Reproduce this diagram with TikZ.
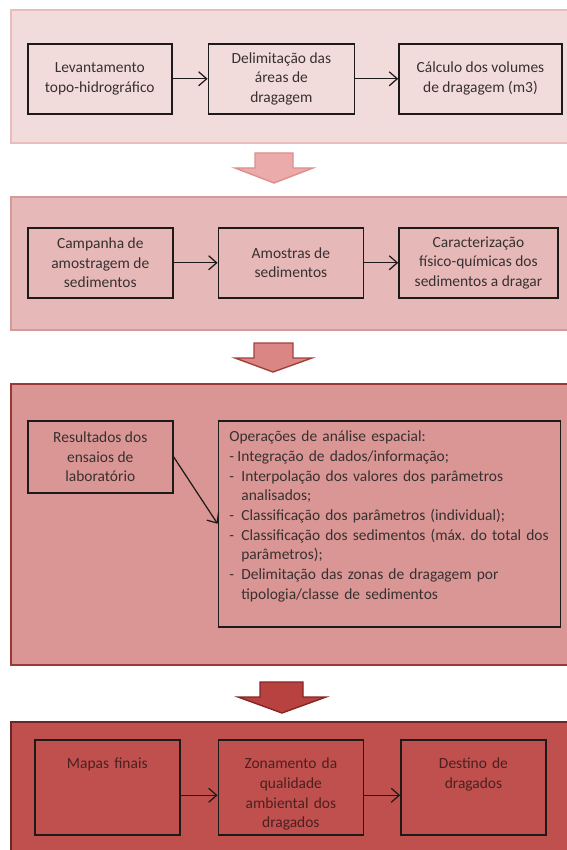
\documentclass[tikz,border=0pt]{standalone}
\usepackage{fontspec}
\setmainfont{Carlito}
\usetikzlibrary{arrows.meta, positioning}

\definecolor{panelA}{HTML}{F2DCDB}
\definecolor{panelAline}{HTML}{E8BDBC}
\definecolor{panelB}{HTML}{E6B9B8}
\definecolor{panelBline}{HTML}{D49A99}
\definecolor{panelC}{HTML}{D99694}
\definecolor{panelCline}{HTML}{9B3836}
\definecolor{panelD}{HTML}{C0504D}
\definecolor{panelDline}{HTML}{6E2624}
\definecolor{arrA}{HTML}{EBABAA}
\definecolor{arrAline}{HTML}{DE8E8D}
\definecolor{arrB}{HTML}{D98684}
\definecolor{arrBline}{HTML}{A3403E}
\definecolor{arrC}{HTML}{B8423F}
\definecolor{arrCline}{HTML}{852624}
\definecolor{txtgray}{HTML}{383030}
\definecolor{txtdark}{HTML}{4A2020}
\definecolor{boxline}{HTML}{1E1A1A}

\begin{document}
\begin{tikzpicture}[
  x=0.2mm, y=-0.2mm,
  >={Straight Barb[length=1.6mm, width=2.8mm]},
  box/.style  = {draw=boxline, line width=0.9pt, inner sep=0pt, align=center,
                 minimum width=29mm, minimum height=14mm, text=txtgray,
                 font=\fontsize{8.8}{11.2}\selectfont},
  topbox/.style = {box, text width=27mm, inner xsep=1mm, inner ysep=0pt,
                   text height=5.8mm, text depth=13.2mm, text=txtdark},
  link/.style = {->, line width=0.7pt, draw=boxline},
]
  \useasboundingbox (0,0) rectangle (566,850);

  % stages
  \filldraw[fill=panelA, draw=panelAline, line width=1.6pt] (11,10)  rectangle (590,143);
  \filldraw[fill=panelB, draw=panelBline, line width=1.4pt] (11,197) rectangle (590,330);
  \filldraw[fill=panelC, draw=panelCline, line width=1.0pt] (11,384) rectangle (590,665);
  \filldraw[fill=panelD, draw=panelDline, line width=1.0pt] (11,722) rectangle (590,870);

  % block arrows between stages
  \filldraw[fill=arrA, draw=arrAline, line width=0.8pt]
    (255,153) -- (293,153) -- (293,168) -- (313,168) -- (274,183) -- (235,168) -- (255,168) -- cycle;
  \filldraw[fill=arrB, draw=arrBline, line width=0.8pt]
    (254,343) -- (293,343) -- (293,358) -- (312,358) -- (273,372) -- (235,358) -- (254,358) -- cycle;
  \filldraw[fill=arrC, draw=arrCline, line width=0.8pt]
    (260,682) -- (303,682) -- (303,697) -- (326,697) -- (282,713) -- (238,697) -- (260,697) -- cycle;

  \node[box, anchor=north west, minimum width=28.8mm] (lev) at (27,43) {Levantamento\\topo-hidrográfico};
  \node[box, right=7mm of lev, minimum width=29.2mm]  (del)  {Delimitação das\\áreas de\\dragagem};
  \node[box, right=8.6mm of del, minimum width=32.6mm] (calc) {Cálculo dos volumes\\de dragagem (m3)};

  \node[box, anchor=north west] (camp) at (27,227) {Campanha de\\amostragem de\\sedimentos};
  \node[box, right=8.8mm of camp]                     (amos)  {Amostras de\\sedimentos};
  \node[box, right=6.8mm of amos, minimum width=31.8mm] (carac) {Caracterização\\físico-químicas dos\\sedimentos a dragar};

  \node[box, anchor=north west, minimum height=14.4mm] (res) at (27,420) {Resultados dos\\ensaios de\\laboratório};
  \node[box, right=8.8mm of res.north east, anchor=north west, align=left,
        text width=64mm, inner xsep=2.2mm, inner ysep=0pt,
        text height=4.2mm, text depth=37mm] (ops)
    {Operações de análise espacial:\\
     \makebox[1.6mm][l]{-}Integração de dados/informação;\\
     \makebox[2.4mm][l]{-}Interpolação dos valores dos parâmetros\\
     \hspace*{2.4mm}analisados;\\
     \makebox[2.4mm][l]{-}Classificação dos parâmetros (individual);\\
     \makebox[2.4mm][l]{-}Classificação dos sedimentos (máx.\ do total dos\\
     \hspace*{2.4mm}parâmetros);\\
     \makebox[2.4mm][l]{-}Delimitação das zonas de dragagem por\\
     \hspace*{2.4mm}tipologia/classe de sedimentos};

  \node[topbox, anchor=north west] (maps) at (34,739) {Mapas finais};
  \node[topbox, right=7.4mm of maps, text width=26.6mm] (zon) {Zonamento da\\qualidade\\ambiental dos\\dragados};
  \node[topbox, right=7.2mm of zon]                  (dest) {Destino de\\dragados};

  \draw[link] (lev)  -- (del);
  \draw[link] (del)  -- (calc);
  \draw[link] (camp) -- (amos);
  \draw[link] (amos) -- (carac);
  \draw[link] (res.east) -- (ops.west);
  \draw[link] ([yshift=-1.6mm]maps.east) -- ([yshift=-1.6mm]zon.west);
  \draw[link] ([yshift=-1.6mm]zon.east)  -- ([yshift=-1.6mm]dest.west);
\end{tikzpicture}
\end{document}
